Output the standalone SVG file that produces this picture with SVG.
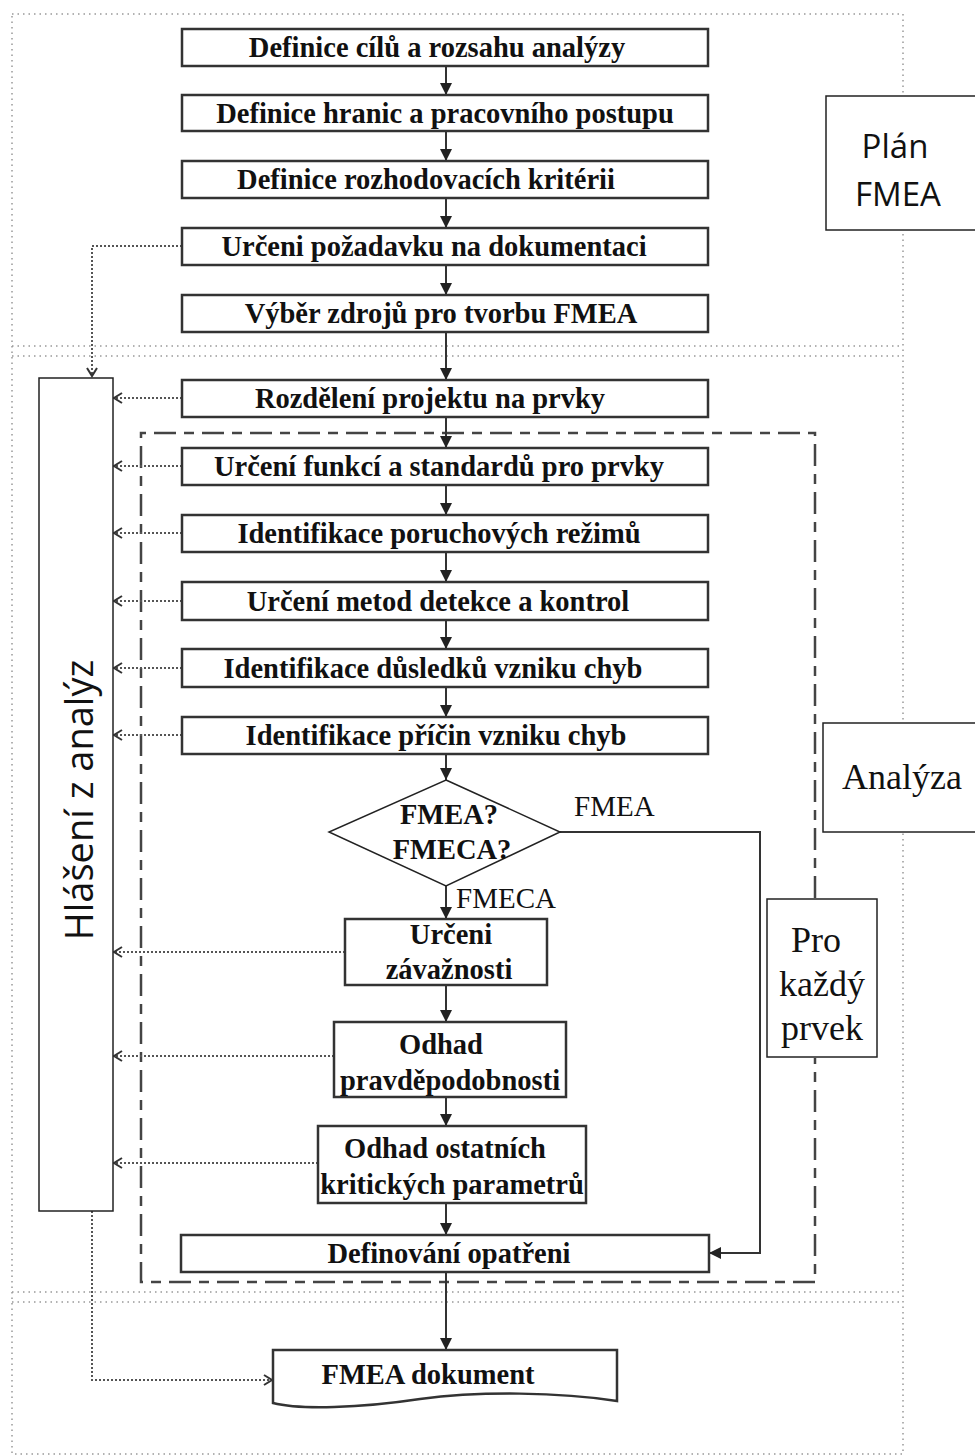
<svg xmlns="http://www.w3.org/2000/svg" width="975" height="1456" viewBox="0 0 975 1456">
  <defs>
    <marker id="solidHead" markerUnits="userSpaceOnUse" markerWidth="14" markerHeight="14" refX="12" refY="6" orient="auto">
      <path d="M0,0 L12,6 L0,12 Z" fill="#222"/>
    </marker>
    <marker id="openHead" markerUnits="userSpaceOnUse" markerWidth="12" markerHeight="14" refX="9" refY="6" orient="auto">
      <path d="M1,1 L9,6 L1,11" fill="none" stroke="#333" stroke-width="2"/>
    </marker>
    <style>
      .frame { fill: none; stroke: #999; stroke-width: 1.5; stroke-dasharray: 1.5 4; }
      .box { fill: #fff; stroke: #333; stroke-width: 2.5; }
      .plain { fill: #fff; stroke: #222; stroke-width: 1.5; }
      .lbl { font-family: "Liberation Serif", "Times New Roman", serif; font-weight: bold; font-size: 28.5px; fill: #111; text-anchor: middle; }
      .serif { font-family: "Liberation Serif", "Times New Roman", serif; fill: #111; }
      .sans { font-family: "Open Sans", "Liberation Sans", sans-serif; fill: #111; }
      .flow { fill: none; stroke: #333; stroke-width: 2; marker-end: url(#solidHead); }
      .dot { fill: none; stroke: #555; stroke-width: 2; stroke-dasharray: 2 2; marker-end: url(#openHead); }
      .loop { fill: none; stroke: #444; stroke-width: 2.5; stroke-dasharray: 22 8 10 8; }
    </style>
  </defs>
  <rect width="975" height="1456" fill="#fff"/>

  <!-- phase frames (dotted) -->
  <g id="frames">
    <path class="frame" d="M12,14 H903 V1454 H12 Z"/>
    <line class="frame" x1="12" y1="346" x2="903" y2="346"/>
    <line class="frame" x1="12" y1="356" x2="903" y2="356"/>
    <line class="frame" x1="12" y1="1292" x2="903" y2="1292"/>
    <line class="frame" x1="12" y1="1302" x2="903" y2="1302"/>
  </g>

  <!-- per-element loop (dashed) -->
  <g id="loop">
    <path class="loop" d="M815,898 V433 H141 V1282 H815 V1058"/>
  </g>

  <!-- connectors -->
  <g id="connectors">
    <line class="flow" x1="446" y1="66" x2="446" y2="95"/>
    <line class="flow" x1="446" y1="131" x2="446" y2="161"/>
    <line class="flow" x1="446" y1="198" x2="446" y2="228"/>
    <line class="flow" x1="446" y1="265" x2="446" y2="295"/>
    <line class="flow" x1="446" y1="332" x2="446" y2="380"/>
    <line class="flow" x1="446" y1="417" x2="446" y2="448"/>
    <line class="flow" x1="446" y1="485" x2="446" y2="515"/>
    <line class="flow" x1="446" y1="552" x2="446" y2="582"/>
    <line class="flow" x1="446" y1="620" x2="446" y2="649"/>
    <line class="flow" x1="446" y1="687" x2="446" y2="717"/>
    <line class="flow" x1="446" y1="754" x2="446" y2="780"/>
    <line class="flow" x1="446" y1="886" x2="446" y2="919"/>
    <line class="flow" x1="446" y1="985" x2="446" y2="1022"/>
    <line class="flow" x1="446" y1="1097" x2="446" y2="1126"/>
    <line class="flow" x1="446" y1="1203" x2="446" y2="1235"/>
    <line class="flow" x1="446" y1="1272" x2="446" y2="1350"/>
    <path class="flow" d="M560,832 H760 V1253 H709"/>

    <!-- reporting links -->
    <path class="dot" d="M182,246 H92 V376"/>
    <line class="dot" x1="182" y1="398" x2="114" y2="398"/>
    <line class="dot" x1="182" y1="466" x2="114" y2="466"/>
    <line class="dot" x1="182" y1="533" x2="114" y2="533"/>
    <line class="dot" x1="182" y1="601" x2="114" y2="601"/>
    <line class="dot" x1="182" y1="668" x2="114" y2="668"/>
    <line class="dot" x1="182" y1="735" x2="114" y2="735"/>
    <line class="dot" x1="345" y1="952" x2="114" y2="952"/>
    <line class="dot" x1="334" y1="1056" x2="114" y2="1056"/>
    <line class="dot" x1="318" y1="1163" x2="114" y2="1163"/>
    <path class="dot" d="M92,1211 V1380 H272"/>
  </g>

  <!-- planning steps -->
  <g id="n1"><rect class="box" x="182" y="29" width="526" height="37"/><text class="lbl" x="437" y="57">Definice cílů a rozsahu analýzy</text></g>
  <g id="n2"><rect class="box" x="182" y="95" width="526" height="36"/><text class="lbl" x="445" y="123">Definice hranic a pracovního postupu</text></g>
  <g id="n3"><rect class="box" x="182" y="161" width="526" height="37"/><text class="lbl" x="426" y="189">Definice rozhodovacích kritérii</text></g>
  <g id="n4"><rect class="box" x="182" y="228" width="526" height="37"/><text class="lbl" x="434" y="256">Určeni požadavku na dokumentaci</text></g>
  <g id="n5"><rect class="box" x="182" y="295" width="526" height="37"/><text class="lbl" x="441" y="323">Výběr zdrojů pro tvorbu FMEA</text></g>

  <!-- analysis steps -->
  <g id="n6"><rect class="box" x="182" y="380" width="526" height="37"/><text class="lbl" x="430" y="408">Rozdělení projektu na prvky</text></g>
  <g id="n7"><rect class="box" x="182" y="448" width="526" height="37"/><text class="lbl" x="439" y="476">Určení funkcí a standardů pro prvky</text></g>
  <g id="n8"><rect class="box" x="182" y="515" width="526" height="37"/><text class="lbl" x="439" y="543">Identifikace poruchových režimů</text></g>
  <g id="n9"><rect class="box" x="182" y="582" width="526" height="38"/><text class="lbl" x="438" y="611">Určení metod detekce a kontrol</text></g>
  <g id="n10"><rect class="box" x="182" y="649" width="526" height="38"/><text class="lbl" x="433" y="678">Identifikace důsledků vzniku chyb</text></g>
  <g id="n11"><rect class="box" x="182" y="717" width="526" height="37"/><text class="lbl" x="436" y="745">Identifikace příčin vzniku chyb</text></g>

  <!-- decision -->
  <g id="decision">
    <path d="M446,780 L560,832 L446,886 L329,832 Z" fill="#fff" stroke="#222" stroke-width="1.5"/>
    <text class="lbl" x="449" y="824">FMEA?</text>
    <text class="lbl" x="452" y="859">FMECA?</text>
    <text class="serif" x="574" y="816" font-size="29">FMEA</text>
    <text class="serif" x="456" y="908" font-size="29">FMECA</text>
  </g>

  <!-- criticality steps -->
  <g id="n12"><rect class="box" x="345" y="919" width="202" height="66"/><text class="lbl" x="451" y="944">Určeni</text><text class="lbl" x="449" y="979">závažnosti</text></g>
  <g id="n13"><rect class="box" x="334" y="1022" width="232" height="75"/><text class="lbl" x="441" y="1054">Odhad</text><text class="lbl" x="450" y="1090">pravděpodobnosti</text></g>
  <g id="n14"><rect class="box" x="318" y="1126" width="268" height="77"/><text class="lbl" x="445" y="1158">Odhad ostatních</text><text class="lbl" x="452" y="1194">kritických parametrů</text></g>
  <g id="n15"><rect class="box" x="181" y="1235" width="528" height="37"/><text class="lbl" x="449" y="1263">Definování opatřeni</text></g>

  <!-- output document -->
  <g id="doc">
    <path d="M273,1350 H617 V1401 C560,1392 480,1391 420,1399 C360,1408 300,1410 273,1403 Z" fill="#fff" stroke="#333" stroke-width="2.5"/>
    <text class="lbl" x="428" y="1384">FMEA dokument</text>
  </g>

  <!-- report box -->
  <g id="report">
    <rect class="plain" x="39" y="378" width="74" height="833"/>
    <text class="sans" font-size="38" text-anchor="middle" transform="translate(93,800) rotate(-90)">Hlášení z analýz</text>
  </g>

  <!-- phase labels -->
  <g id="planLabel">
    <rect class="plain" x="826" y="96" width="152" height="134"/>
    <text class="sans" font-size="33" x="895" y="158" text-anchor="middle">Plán</text>
    <text class="sans" font-size="33" x="898" y="206" text-anchor="middle">FMEA</text>
  </g>
  <g id="analysisLabel">
    <rect class="plain" x="823" y="723" width="155" height="109"/>
    <text class="serif" font-size="36" x="902" y="789" text-anchor="middle">Analýza</text>
  </g>
  <g id="elementLabel">
    <rect class="plain" x="767" y="899" width="110" height="158"/>
    <text class="serif" font-size="36" x="816" y="952" text-anchor="middle">Pro</text>
    <text class="serif" font-size="36" x="822" y="996" text-anchor="middle">každý</text>
    <text class="serif" font-size="36" x="822" y="1040" text-anchor="middle">prvek</text>
  </g>
</svg>
